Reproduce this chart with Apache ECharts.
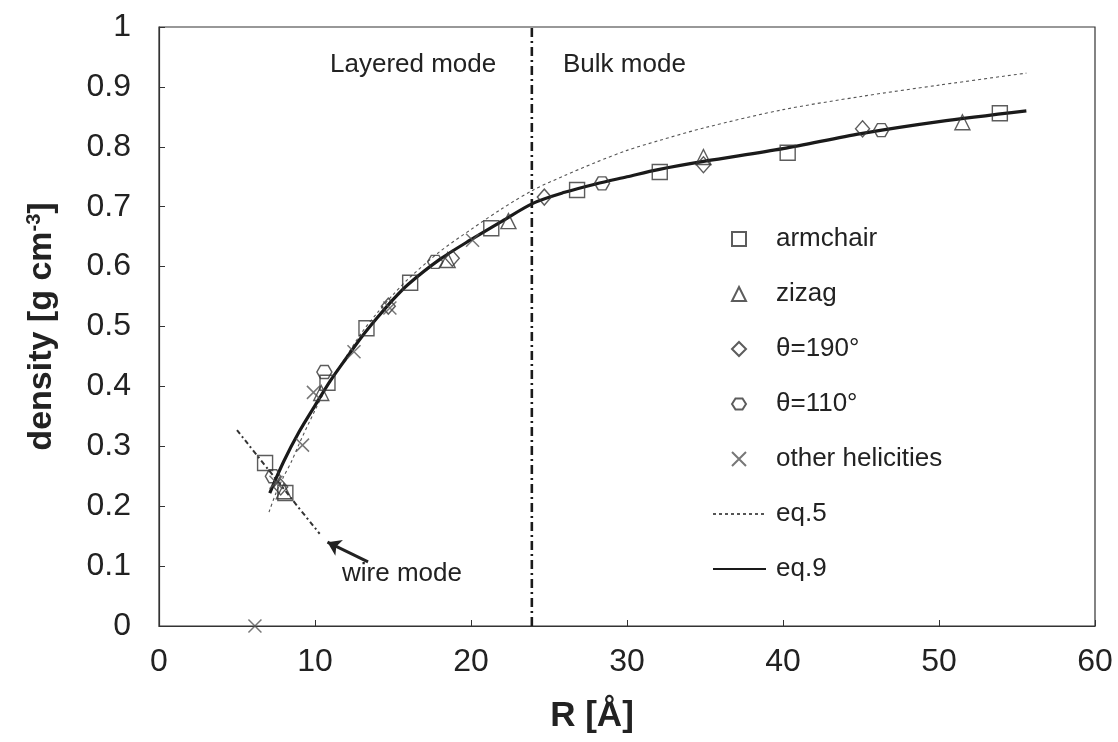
<!DOCTYPE html>
<html>
<head>
<meta charset="utf-8">
<script src="https://cdn.jsdelivr.net/npm/echarts@6/dist/echarts.min.js"></script>
<style>
  html, body { margin: 0; padding: 0; background: #fff; }
  #chart { width: 1118px; height: 742px; }
</style>
</head>
<body>
<div id="chart"></div>
<script>
// Simulated nanotube densities: R [Å] vs density [g cm^-3]
const armchairR   = [6.8, 8.1, 10.8, 13.3, 16.1, 21.3, 26.8, 32.1, 40.3, 53.9];
const armchairRho = [0.272, 0.222, 0.406, 0.497, 0.573, 0.664, 0.728, 0.758, 0.790, 0.856];

const zizagR   = [8.0, 10.4, 18.5, 22.4, 34.9, 51.5];
const zizagRho = [0.225, 0.389, 0.611, 0.676, 0.783, 0.841];

const theta190R   = [7.8, 14.7, 18.8, 24.7, 34.9, 45.1];
const theta190Rho = [0.232, 0.534, 0.614, 0.716, 0.770, 0.830];

const theta110R   = [7.3, 10.6, 17.7, 28.4, 46.3];
const theta110Rho = [0.250, 0.424, 0.608, 0.739, 0.828];

const otherR   = [6.15, 7.5, 9.2, 9.9, 12.5, 14.8, 20.1];
const otherRho = [0.0, 0.240, 0.302, 0.390, 0.458, 0.531, 0.644];

// eq.5 (model curve)
const eq5R   = [7.05, 7.5, 8, 8.5, 9, 10, 11, 12, 13, 14, 15, 16, 18, 20, 22, 24, 26, 28, 30, 32, 35, 40, 45, 50, 55.6];
const eq5Rho = [0.19, 0.222, 0.25, 0.275, 0.305, 0.36, 0.41, 0.45, 0.49, 0.523, 0.553, 0.58, 0.625, 0.662, 0.697, 0.728, 0.752, 0.774, 0.794, 0.81, 0.832, 0.862, 0.884, 0.903, 0.923];

// eq.9 (fitted curve)
const eq9R   = [7.1, 8, 9, 10, 11, 12, 13, 14, 15, 16, 18, 20, 22, 24, 26, 28, 30, 32, 35, 40, 45, 50, 55.6];
const eq9Rho = [0.222, 0.275, 0.325, 0.368, 0.410, 0.447, 0.483, 0.515, 0.545, 0.571, 0.612, 0.645, 0.676, 0.706, 0.724, 0.738, 0.750, 0.762, 0.776, 0.797, 0.822, 0.842, 0.860];

// wire-mode trend
const wireR   = [5.0, 6.8, 8.0, 9.0, 10.3];
const wireRho = [0.327, 0.268, 0.229, 0.196, 0.154];

// boundary between layered and bulk mode
const boundaryR = 23.9;
const boundaryRho = [0, 1];

// arrow pointing at the wire-mode line: [tail, head]
const arrowR   = [13.4, 10.8];
const arrowRho = [0.107, 0.140];

const xTicks = [0, 10, 20, 30, 40, 50, 60];
const yTicks = [0, 0.1, 0.2, 0.3, 0.4, 0.5, 0.6, 0.7, 0.8, 0.9, 1];

const zip = (a, b) => a.map((v, i) => [v, b[i]]);

const FONT = 'Liberation Sans, Arial, sans-serif';
const INK = '#222';

const markerStyle = {
  color: 'rgba(0,0,0,0)',
  borderColor: '#333',
  borderWidth: 1.4
};

const hexPath = 'path://M0,6 L3.5,0.5 L10.5,0.5 L14,6 L10.5,11.5 L3.5,11.5 Z';
const crossPath = 'path://M0,0 L12,12 M12,0 L0,12';

const chart = echarts.init(document.getElementById('chart'), null, { renderer: 'canvas' });

const option = {
  animation: false,
  backgroundColor: '#fff',
  textStyle: { fontFamily: FONT },
  grid: {
    left: 159, top: 27, right: 23, bottom: 116,
    show: true, borderColor: '#333', borderWidth: 1.2
  },
  xAxis: {
    type: 'value',
    min: xTicks[0], max: xTicks[xTicks.length - 1], interval: 10,
    axisLine: { lineStyle: { color: '#333', width: 1.2 } },
    axisTick: { inside: true, length: 6, lineStyle: { color: '#333' } },
    axisLabel: { fontSize: 32, color: INK, margin: 20, fontFamily: FONT },
    splitLine: { show: false }
  },
  yAxis: {
    type: 'value',
    min: yTicks[0], max: yTicks[yTicks.length - 1], interval: 0.1,
    name: 'density [g cm{sup|-3}]',
    nameLocation: 'middle',
    nameGap: 99,
    nameRotate: 90,
    nameTextStyle: {
      fontSize: 34, fontWeight: 'bold', color: INK, fontFamily: FONT,
      rich: { sup: { fontSize: 20, fontWeight: 'bold', color: INK, verticalAlign: 'top', padding: [0, 0, 16, 0], fontFamily: FONT } }
    },
    axisLine: { lineStyle: { color: '#333', width: 1.2 } },
    axisTick: { inside: true, length: 6, lineStyle: { color: '#333' } },
    axisLabel: {
      fontSize: 32, color: INK, margin: 28, fontFamily: FONT,
      formatter: v => String(Math.round(v * 10) / 10)
    },
    splitLine: { show: false }
  },
  legend: [
    {
      data: ['armchair', 'zizag', 'θ=190°', 'θ=110°', 'other helicities'],
      orient: 'vertical',
      left: 726, top: 221,
      itemWidth: 14, itemHeight: 14, itemGap: 29,
      textStyle: { fontSize: 26, color: INK, fontFamily: FONT, padding: [0, 0, 0, 25] }
    },
    {
      data: ['eq.5', 'eq.9'],
      orient: 'vertical',
      left: 707, top: 496,
      itemWidth: 53, itemHeight: 14, itemGap: 29,
      itemStyle: { opacity: 0 },
      textStyle: { fontSize: 26, color: INK, fontFamily: FONT, padding: [0, 0, 0, 5] }
    }
  ],
  series: [
    {
      name: 'eq.5', type: 'line', data: zip(eq5R, eq5Rho),
      showSymbol: false, symbol: 'none', smooth: 0.3,
      lineStyle: { color: '#555', width: 1.1, type: [3, 3] },
      itemStyle: { color: '#555' }, z: 2
    },
    {
      name: 'eq.9', type: 'line', data: zip(eq9R, eq9Rho),
      showSymbol: false, symbol: 'none', smooth: 0.3,
      lineStyle: { color: '#1a1a1a', width: 3.2 },
      itemStyle: { color: '#1a1a1a' }, z: 3
    },
    {
      name: 'wire', type: 'line', data: zip(wireR, wireRho),
      showSymbol: false, symbol: 'none', smooth: true,
      lineStyle: { color: '#333', width: 2, type: [5, 3, 2, 3] }, z: 2
    },
    {
      name: 'boundary', type: 'line',
      data: boundaryRho.map(v => [boundaryR, v]),
      showSymbol: false, symbol: 'none',
      lineStyle: { color: '#1a1a1a', width: 2.6, type: [9, 4, 2, 4] }, z: 2
    },
    {
      name: 'arrow', type: 'lines', coordinateSystem: 'cartesian2d',
      data: [{ coords: zip(arrowR, arrowRho) }],
      symbol: ['none', 'arrow'], symbolSize: 13,
      lineStyle: { color: '#222', width: 3, opacity: 1 }, z: 4
    },
    {
      name: 'armchair', type: 'scatter', data: zip(armchairR, armchairRho),
      symbol: 'rect', symbolSize: 15, itemStyle: markerStyle, z: 5
    },
    {
      name: 'zizag', type: 'scatter', data: zip(zizagR, zizagRho),
      symbol: 'triangle', symbolSize: 15, itemStyle: markerStyle, z: 5
    },
    {
      name: 'θ=190°', type: 'scatter', data: zip(theta190R, theta190Rho),
      symbol: 'diamond', symbolSize: [14, 16], itemStyle: markerStyle, z: 5
    },
    {
      name: 'θ=110°', type: 'scatter', data: zip(theta110R, theta110Rho),
      symbol: hexPath, symbolSize: [15, 13], itemStyle: markerStyle, z: 5
    },
    {
      name: 'other helicities', type: 'scatter', data: zip(otherR, otherRho),
      symbol: crossPath, symbolSize: 13,
      itemStyle: { color: 'rgba(0,0,0,0)', borderColor: '#555', borderWidth: 1.5 }, z: 5
    }
  ],
  graphic: [
    { type: 'text', left: 330, top: 52, style: { text: 'Layered mode', font: '26px ' + FONT, fill: INK } },
    { type: 'text', left: 563, top: 52, style: { text: 'Bulk mode', font: '26px ' + FONT, fill: INK } },
    { type: 'text', left: 342, top: 561, style: { text: 'wire mode', font: '26px ' + FONT, fill: INK } },
    {
      type: 'text', x: 592, y: 716,
      style: { text: 'R [Å]', font: 'bold 35px ' + FONT, fill: INK, textAlign: 'center', textVerticalAlign: 'middle' }
    }
  ]
};

chart.setOption(option);
</script>
</body>
</html>
